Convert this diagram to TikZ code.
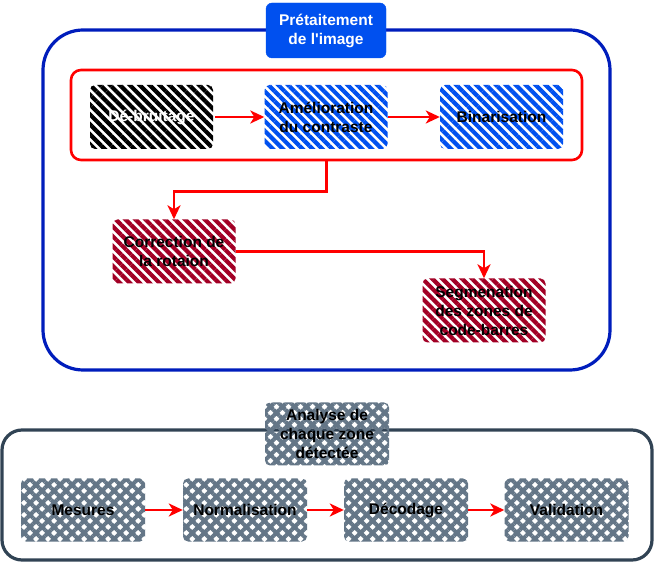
\documentclass[tikz,border=0pt]{standalone}
\usepackage{fontspec}
\setmainfont{Liberation Sans}
\usetikzlibrary{arrows.meta,patterns.meta}
\definecolor{bleufonce}{HTML}{001DBC}
\definecolor{bleu}{HTML}{0050EF}
\definecolor{cramoisi}{HTML}{A20025}
\definecolor{ardoise}{HTML}{647687}
\definecolor{ardoisefonce}{HTML}{314354}
\begin{document}
\begin{tikzpicture}[x=1pt,y=-1pt,
  every node/.style={font=\bfseries\fontsize{15.5}{19}\selectfont, align=center},
  hachure/.style={minimum width=123pt, minimum height=64pt, rounded corners=5pt,
    pattern={Lines[angle=-45,distance=7pt,line width=4.2pt]}, pattern color=#1},
  quadrille/.style={minimum width=124pt, minimum height=63pt, rounded corners=5pt,
    pattern={Hatch[angle=45,distance=8.5pt,line width=4pt]}, pattern color=ardoise},
  fleche/.style={-{Stealth[length=14pt,width=13pt,inset=4pt]}, draw=red, line width=2.8pt}]
\useasboundingbox (0,0) rectangle (654,569);

% pretraitement
\node[draw=bleufonce, line width=3.2pt, rounded corners=40pt, minimum width=567pt, minimum height=340pt] (bloc) at (326.5,200) {};
\node[fill=bleu, draw=bleu, rounded corners=6pt, text=white, minimum width=120pt, minimum height=55pt] (titre) at (326,30.5) {Prétaitement\\de l\textquotesingle image};
\node[draw=red, line width=2.6pt, rounded corners=10pt, minimum width=511pt, minimum height=90pt] (chaine) at (326.5,115) {};

\node[hachure=black, text=white] (bruit) at (151.5,117) {Dé-bruitage};
\node[hachure=bleu] (contraste) at (326,117) {Amélioration\\du contraste};
\node[hachure=bleu] (binaire) at (501.5,117) {Binarisation};
\node[hachure=cramoisi] (rotation) at (174,251.5) {Correction de\\la rotaion};
\node[hachure=cramoisi] (segment) at (484,310.5) {Segmenation\\des zones de\\code-barres};

\draw[fleche] (bruit) -- (contraste);
\draw[fleche] (contraste) -- (binaire);
\draw[fleche] (chaine.south) -- ++(0,30) -| (rotation.north);
\draw[fleche] (rotation.east) -| (segment.north);

% analyse
\node[draw=ardoisefonce, line width=3.2pt, rounded corners=20pt, minimum width=650pt, minimum height=130pt] (bas) at (327,495) {};
\node[quadrille] (analyse) at (327,434) {Analyse de\\chaque zone\\détectée};

\node[quadrille] (mesures) at (83,510) {Mesures};
\node[quadrille] (normal) at (245,510) {Normalisation};
\node[quadrille] (decodage) at (406,510) {Décodage};
\node[quadrille] (valid) at (566.5,510) {Validation};

\draw[fleche] (mesures) -- (normal);
\draw[fleche] (normal) -- (decodage);
\draw[fleche] (decodage) -- (valid);
\end{tikzpicture}
\end{document}
